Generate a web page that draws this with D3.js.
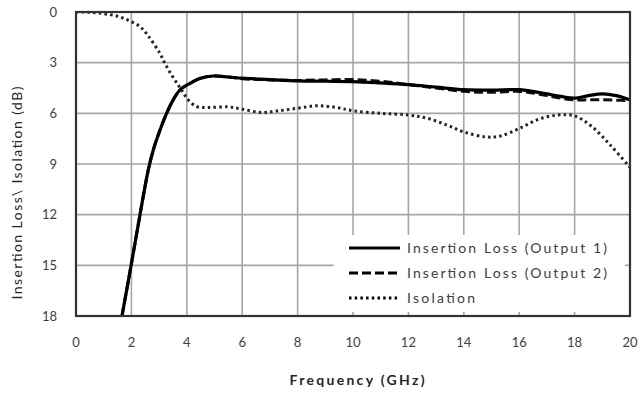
<!DOCTYPE html>
<html>
<head>
<meta charset="utf-8">
<script src="https://cdn.jsdelivr.net/npm/d3@7"></script>
<style>
  html, body { margin: 0; padding: 0; background: #fff; }
  svg text { font-family: Lato, "Open Sans", sans-serif; fill: #404040; }
</style>
</head>
<body>
<script>
// values (frequency GHz, loss dB)
const xTicks = [0, 2, 4, 6, 8, 10, 12, 14, 16, 18, 20];
const yTicks = [0, 3, 6, 9, 12, 15, 18];

const il1Freq = [1.5, 1.66, 1.99, 2.31, 2.61, 2.79, 3.03, 3.27, 3.51, 3.75, 4.12, 4.48, 4.96, 5.5, 6, 7, 8, 9, 10, 11, 12, 13, 14, 15, 16, 16.5, 17, 17.5, 18, 18.5, 19, 19.5, 20];
const il1Loss = [19.5, 18, 15, 12, 9.35, 8.17, 7.0, 6.0, 5.2, 4.62, 4.22, 3.93, 3.79, 3.85, 3.92, 4.0, 4.08, 4.1, 4.12, 4.2, 4.3, 4.45, 4.6, 4.62, 4.6, 4.7, 4.85, 5.0, 5.1, 4.95, 4.85, 4.95, 5.2];

const il2Freq = [1.5, 1.66, 1.99, 2.31, 2.61, 2.79, 3.03, 3.27, 3.51, 3.75, 4.12, 4.48, 4.96, 5.5, 6, 7, 8, 9, 10, 11, 12, 13, 14, 15, 16, 16.5, 17, 17.5, 18, 18.5, 19, 19.5, 20];
const il2Loss = [19.5, 18, 15, 12, 9.35, 8.17, 7.0, 6.0, 5.2, 4.62, 4.22, 3.93, 3.79, 3.85, 3.95, 4.02, 4.05, 4.02, 4.0, 4.1, 4.3, 4.5, 4.7, 4.75, 4.7, 4.8, 4.95, 5.1, 5.2, 5.2, 5.2, 5.22, 5.25];

const isoFreq = [0, 0.5, 1, 1.5, 1.9, 2.3, 2.6, 3.03, 3.21, 3.45, 3.69, 3.86, 4.05, 4.36, 4.8, 5.5, 6, 6.7, 7.3, 8, 8.7, 9.4, 10, 11, 12, 12.7, 13.4, 14, 14.8, 15.3, 16, 16.7, 17.4, 18, 18.6, 19.3, 20];
const isoLoss = [0, 0.02, 0.1, 0.25, 0.5, 0.85, 1.4, 2.45, 3.04, 3.73, 4.32, 4.75, 5.2, 5.6, 5.65, 5.62, 5.75, 5.95, 5.85, 5.7, 5.55, 5.65, 5.85, 6.0, 6.1, 6.3, 6.7, 7.1, 7.4, 7.35, 6.9, 6.35, 6.1, 6.15, 6.75, 7.9, 9.2];

const seriesNames = ["Insertion Loss (Output 1)", "Insertion Loss (Output 2)", "Isolation"];

const width = 643, height = 394;
const margin = { top: 12, right: 13, bottom: 78, left: 76 };

const x = d3.scaleLinear().domain([0, 20]).range([margin.left, width - margin.right]);
const y = d3.scaleLinear().domain([0, 18]).range([margin.top, height - margin.bottom]);

const svg = d3.select("body").append("svg")
  .attr("width", width)
  .attr("height", height);

svg.append("defs").append("clipPath").attr("id", "plot")
  .append("rect")
  .attr("x", x(0)).attr("y", y(0))
  .attr("width", x(20) - x(0)).attr("height", y(18) - y(0));

// grid
svg.append("g")
  .attr("stroke", "#a6a6a6").attr("stroke-width", 1.6)
  .call(g => g.selectAll("line.v").data(xTicks).join("line")
    .attr("x1", d => x(d)).attr("x2", d => x(d))
    .attr("y1", y(0)).attr("y2", y(18)))
  .call(g => g.selectAll("line.h").data(yTicks).join("line")
    .attr("x1", x(0)).attr("x2", x(20))
    .attr("y1", d => y(d)).attr("y2", d => y(d)));

// tick labels
svg.append("g").selectAll("text").data(xTicks).join("text")
  .attr("x", d => x(d)).attr("y", 347)
  .attr("text-anchor", "middle")
  .attr("font-size", 13)
  .text(d => d);

svg.append("g").selectAll("text").data(yTicks).join("text")
  .attr("x", 57).attr("y", d => y(d) + 4.5)
  .attr("text-anchor", "end")
  .attr("font-size", 13)
  .text(d => d);

// lines
const line = d3.line().curve(d3.curveCatmullRom.alpha(0.5))
  .x(d => x(d[0])).y(d => y(d[1]));

const plot = svg.append("g").attr("clip-path", "url(#plot)").attr("fill", "none");

plot.append("path")
  .datum(d3.zip(il2Freq, il2Loss))
  .attr("d", line)
  .attr("stroke", "#111").attr("stroke-width", 3)
  .attr("stroke-dasharray", "9,4");

plot.append("path")
  .datum(d3.zip(il1Freq, il1Loss))
  .attr("d", line)
  .attr("stroke", "#000").attr("stroke-width", 3.2);

plot.append("path")
  .datum(d3.zip(isoFreq, isoLoss))
  .attr("d", line)
  .attr("stroke", "#222").attr("stroke-width", 3)
  .attr("stroke-dasharray", "2.5,3.2");

// legend (white box covers the grid)
const lx = x(9.3), ly = 235;
svg.append("rect")
  .attr("x", lx).attr("y", ly)
  .attr("width", x(20) - lx).attr("height", y(18) - ly)
  .attr("fill", "#fff");

// small inner ticks left visible inside the legend area
svg.append("g").attr("stroke", "#a6a6a6").attr("stroke-width", 1.6)
  .call(g => g.selectAll("line.b").data(xTicks.filter(d => d >= 10 && d < 20)).join("line")
    .attr("x1", d => x(d)).attr("x2", d => x(d))
    .attr("y1", y(18) - 4).attr("y2", y(18)))
  .call(g => g.selectAll("line.r").data([15]).join("line")
    .attr("x1", x(20) - 5).attr("x2", x(20))
    .attr("y1", d => y(d)).attr("y2", d => y(d)));

const legend = svg.append("g").selectAll("g").data(seriesNames).join("g")
  .attr("transform", (d, i) => `translate(349, ${248 + i * 25})`);

legend.append("line")
  .attr("x1", 0).attr("x2", 51)
  .attr("stroke", "#000").attr("stroke-width", 3)
  .attr("stroke-dasharray", (d, i) => ["none", "9,4", "2.5,3.2"][i]);

legend.append("text")
  .attr("x", 58).attr("y", 5)
  .attr("font-size", 14)
  .attr("textLength", (d, i) => [200, 200, 68][i])
  .attr("lengthAdjust", "spacing")
  .text(d => d);

// plot border
svg.append("rect")
  .attr("x", x(0)).attr("y", y(0))
  .attr("width", x(20) - x(0)).attr("height", y(18) - y(0))
  .attr("fill", "none").attr("stroke", "#333").attr("stroke-width", 2.2);

// axis titles
svg.append("text")
  .attr("x", 357).attr("y", 385)
  .attr("text-anchor", "middle")
  .attr("font-size", 14).attr("font-weight", "bold")
  .attr("textLength", 135).attr("lengthAdjust", "spacing")
  .style("fill", "#262626")
  .text("Frequency (GHz)");

svg.append("text")
  .attr("transform", "translate(22, 193) rotate(-90)")
  .attr("text-anchor", "middle")
  .attr("font-size", 14)
  .attr("textLength", 213).attr("lengthAdjust", "spacing")
  .style("fill", "#262626")
  .text("Insertion Loss\\ Isolation (dB)");
</script>
</body>
</html>
